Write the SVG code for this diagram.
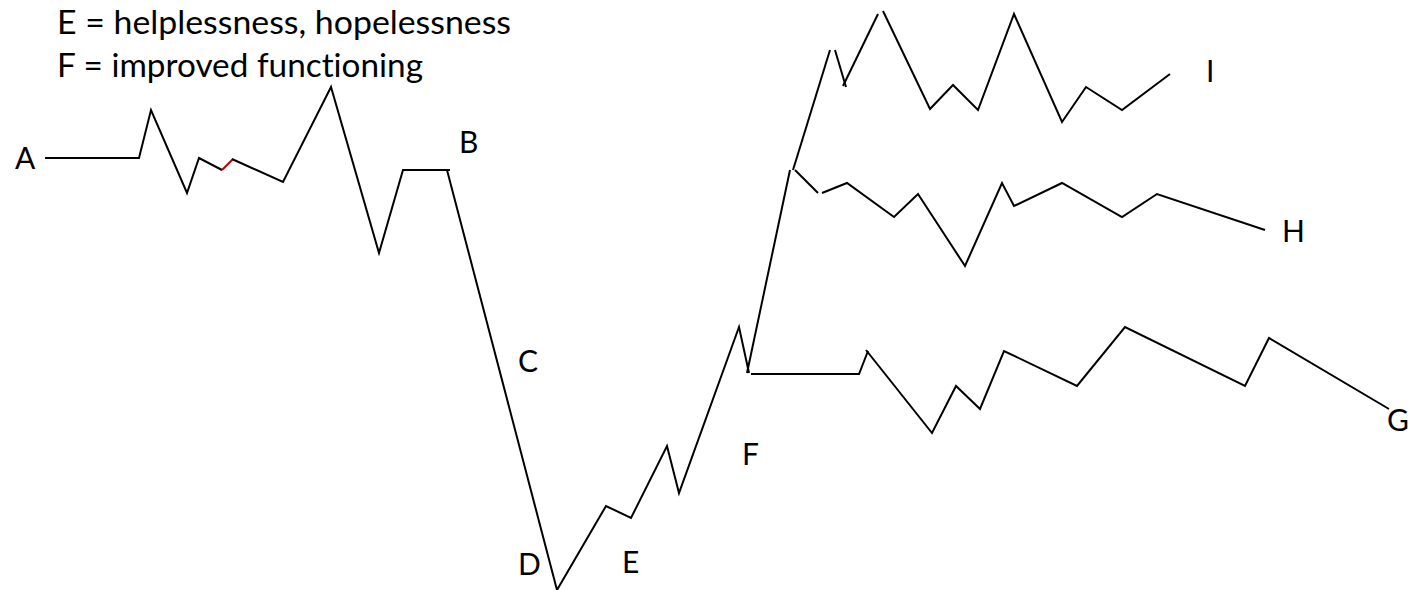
<svg xmlns="http://www.w3.org/2000/svg" width="1418" height="590" viewBox="0 0 1418 590">
<style>
.ln{fill:none;stroke:#000;stroke-width:2;stroke-linejoin:miter;stroke-linecap:butt}
.red{fill:none;stroke:#c00000;stroke-width:2}
text{font-family:Lato,"Liberation Sans",sans-serif;font-size:30px;fill:#000;font-variant-ligatures:none}
.lg{font-size:32px}
</style>
<rect width="1418" height="590" fill="#fff"/>
<g id="legend">
<text class="lg" x="57" y="34" textLength="454" lengthAdjust="spacingAndGlyphs">E = helplessness, hopelessness</text>
<text class="lg" x="57" y="77" textLength="366" lengthAdjust="spacingAndGlyphs">F = improved functioning</text>
</g>
<g id="connectors">
<polyline class="ln" points="45,158 139,158 151,110 187,193 199,158 222,170"/>
<line class="red" x1="222" y1="170" x2="233" y2="159"/>
<polyline class="ln" points="232,159 283,182 331,87 379,253 403,170 450,170"/>
<polyline class="ln" points="447,170 557,590 606,506 631,518 667,446 679,493 739,327 749,373"/>
<line class="ln" x1="747" y1="373" x2="790" y2="170"/>
<polyline class="ln" points="751,374 859,374 868,351"/>
<polyline class="ln" points="866,350 932,433 956,386 980,409 1004,351 1077,386 1125,327 1245,386 1269,338 1389,409"/>
<line class="ln" x1="795" y1="170" x2="818" y2="193"/>
<polyline class="ln" points="822,193 847,183 894,217 918,194 965,266 1002,183 1014,206 1062,183 1122,217 1157,194 1265,230"/>
<line class="ln" x1="793" y1="170" x2="830" y2="50"/>
<line class="ln" x1="835" y1="50" x2="846" y2="87"/>
<line class="ln" x1="843" y1="86" x2="878" y2="14"/>
<polyline class="ln" points="883,11 930,109 953,85 978,110 1014,14 1062,122 1086,87 1122,110 1170,74"/>
</g>
<g id="A"><text x="15" y="169">A</text></g>
<g id="B"><text x="459" y="153">B</text></g>
<g id="C"><text x="518" y="372">C</text></g>
<g id="D"><text x="518" y="575">D</text></g>
<g id="E"><text x="622" y="573">E</text></g>
<g id="F"><text x="742" y="465">F</text></g>
<g id="G"><text x="1387" y="431">G</text></g>
<g id="H"><text x="1282" y="242">H</text></g>
<g id="I"><text x="1206" y="82">I</text></g>
</svg>
